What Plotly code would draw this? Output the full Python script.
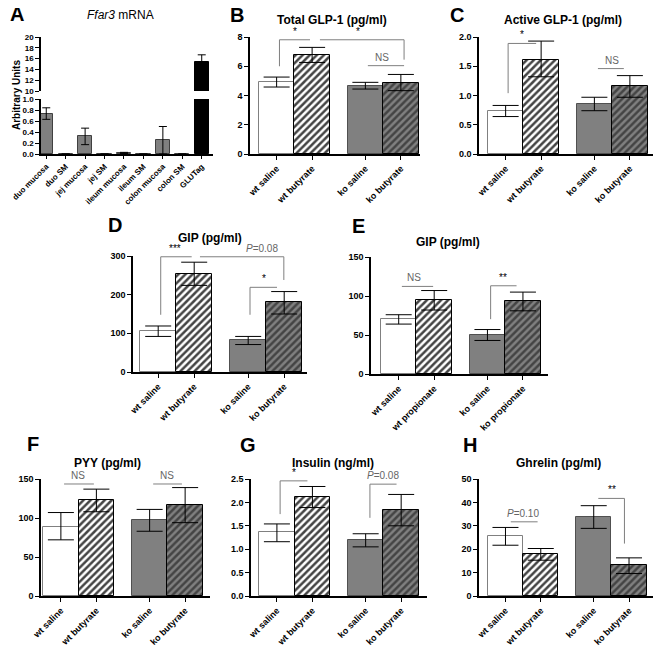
import plotly.graph_objects as go

# the page body adds an 8px margin, so the figure is 8px smaller and every
# reference pixel position is shifted by that margin
OFF = 8
W, H = 662 - OFF, 645 - OFF
FONT = "Liberation Sans, Arial, sans-serif"

# ---------------- data ----------------
a_cats = ["duo mucosa", "duo SM", "jej mucosa", "jej SM", "ileum mucosa",
          "ileum SM", "colon mucosa", "colon SM", "GLUTag"]
a_vals = [0.73, 0, 0.32, 0, 0.02, 0, 0.25, 0, 15.3]
a_hi = [0.84, 0, 0.47, 0, 0.03, 0, 0.50, 0, 16.7]
a_lo = [0.63, 0, 0.17, 0, 0.01, 0, 0.0, 0, 13.9]

but_cats = ["wt saline", "wt butyrate", "ko saline", "ko butyrate"]
pro_cats = ["wt saline", "wt propionate", "ko saline", "ko propionate"]

b_vals = [4.92, 6.79, 4.62, 4.85]
b_hi = [5.26, 7.29, 4.90, 5.44]
b_lo = [4.58, 6.26, 4.44, 4.33]

c_vals = [0.74, 1.61, 0.86, 1.17]
c_hi = [0.83, 1.93, 0.97, 1.34]
c_lo = [0.64, 1.32, 0.74, 0.97]

d_vals = [105, 254, 82, 180]
d_hi = [119, 284, 92, 208]
d_lo = [92, 224, 71, 150]

e_vals = [71, 95, 50, 93]
e_hi = [76, 107, 57, 105]
e_lo = [64, 82, 43, 81]

f_vals = [89, 123, 97, 117]
f_hi = [107, 137, 111, 139]
f_lo = [72, 108, 83, 94]

g_vals = [1.36, 2.12, 1.20, 1.84]
g_hi = [1.54, 2.34, 1.33, 2.17]
g_lo = [1.16, 1.89, 1.05, 1.50]

h_vals = [25.6, 17.9, 33.7, 13.1]
h_hi = [29.3, 20.3, 38.6, 16.3]
h_lo = [21.7, 15.3, 28.9, 9.6]

# ---------------- helpers (page pixel -> paper fraction) ----------------
def fx(x):
    return (x - OFF) / W

def fy(y):
    return 1 - (y - OFF) / H

def dx(x0, x1):
    return [fx(x0), fx(x1)]

def dy(y0, y1):
    return [fy(y1), fy(y0)]

ax_base = dict(showline=True, linecolor="black", linewidth=1.5, ticks="outside",
               tickcolor="black", ticklen=4, tickwidth=1.2, showgrid=False,
               zeroline=False, automargin=False,
               tickfont=dict(family=FONT, size=9, color="black", weight="bold"))

GRAY = "#808080"
fig = go.Figure()
annots = []
shapes = []

# ---------------- panel A (broken axis) ----------------
a_pos = list(range(len(a_cats)))
a_colors = [GRAY] * 8 + ["black"]
a_lines = ["#404040"] * 8 + ["black"]
for ya in ["y", "y2"]:
    fig.add_trace(go.Bar(
        x=a_pos, y=a_vals, xaxis="x", yaxis=ya, width=0.73,
        marker=dict(color=a_colors, line=dict(color=a_lines, width=1)),
        error_y=dict(type="data", array=[h - v for h, v in zip(a_hi, a_vals)],
                     arrayminus=[v - l for v, l in zip(a_vals, a_lo)],
                     color="black", thickness=1, width=4),
        showlegend=False, hoverinfo="skip"))

a_tick = dict(family=FONT, size=8, color="black", weight="bold")
fig.update_layout(
    xaxis=dict(ax_base, domain=dx(41, 213), range=[-0.27, 8.58], anchor="y",
               tickvals=a_pos, ticktext=a_cats, tickangle=-45, ticklen=3,
               tickfont=a_tick),
    yaxis=dict(ax_base, domain=dy(99, 154), range=[0, 1], dtick=0.2,
               tickformat=".1f", anchor="x", tickfont=a_tick),
    yaxis2=dict(ax_base, domain=dy(37, 91), range=[10, 20], dtick=2,
                anchor="x", tickfont=a_tick),
)
annots.append(dict(text="A", x=fx(17), y=fy(14), font=dict(size=20, weight="bold")))
annots.append(dict(text="Arbitrary Units", textangle=-90, x=fx(16), y=fy(95),
                   font=dict(size=10, weight="bold")))
annots.append(dict(text="<i>Ffar3</i> mRNA", x=fx(120), y=fy(15),
                   font=dict(size=12)))

# ---------------- panels B-H ----------------
bar_pos = [0.75, 1.75, 3.25, 4.25]
fills = ["white", "white", GRAY, GRAY]
outlines = [GRAY, "black", "#505050", "black"]
hatch = ["", "/", "", "/"]

# each bracket: x0, x1, y, left leg bottom, right leg bottom, label, label x
panels = [
    dict(letter="B", title="Total GLP-1 (pg/ml)", cats=but_cats,
         vals=b_vals, hi=b_hi, lo=b_lo, box=(250, 37, 420, 154), xlo=0.0, bpx=35.5,
         yr=[0, 8], dtick=2, fmt="", letter_xy=(237, 15), title_xy=(332, 20),
         brackets=[(0.83, 1.69, 7.81, 6.0, None, "*", 1.27),
                   (1.97, 4.34, 7.81, None, 6.45, "*", 3.04),
                   (3.32, 4.34, 6.04, None, None, "NS", 3.72)]),
    dict(letter="C", title="Active GLP-1 (pg/ml)", cats=but_cats,
         vals=c_vals, hi=c_hi, lo=c_lo, box=(479, 37, 653, 154), xlo=0.0, bpx=35.5,
         yr=[0, 2], dtick=0.5, fmt=".1f", letter_xy=(457, 15), title_xy=(563, 20),
         brackets=[(0.82, 1.61, 1.89, 1.04, None, "*", 1.2),
                   (3.35, 4.08, 1.46, None, None, "NS", 3.74)]),
    dict(letter="D", title="GIP (pg/ml)", cats=but_cats,
         vals=d_vals, hi=d_hi, lo=d_lo, box=(133, 256, 307, 372), xlo=0.05, bpx=36,
         yr=[0, 300], dtick=100, fmt="", letter_xy=(115, 225), title_xy=(210, 238),
         brackets=[(0.82, 1.68, 298, 148, None, "***", 1.22),
                   (1.91, 4.24, 298, None, 238, "<i>P</i>=0.08", 3.62),
                   (3.30, 4.05, 219, 148, None, "*", 3.69)]),
    dict(letter="E", title="GIP (pg/ml)", cats=pro_cats,
         vals=e_vals, hi=e_hi, lo=e_lo, box=(371, 257, 548, 374), xlo=-0.03, bpx=35.5,
         yr=[0, 150], dtick=50, fmt="", letter_xy=(358, 226), title_xy=(448, 242),
         brackets=[(0.84, 1.72, 112.3, None, None, "NS", 1.18),
                   (3.34, 4.07, 113.1, 70.3, None, "**", 3.69)]),
    dict(letter="F", title="PYY (pg/ml)", cats=but_cats,
         vals=f_vals, hi=f_hi, lo=f_lo, box=(41, 479, 210, 596), xlo=0.19, bpx=35.5,
         yr=[0, 150], dtick=50, fmt="", letter_xy=(33, 444), title_xy=(107, 463),
         brackets=[(0.84, 1.68, 143.6, None, None, "NS", 1.24),
                   (3.35, 4.16, 143.6, None, None, "NS", 3.73)]),
    dict(letter="G", title="Insulin (ng/ml)", cats=but_cats,
         vals=g_vals, hi=g_hi, lo=g_lo, box=(251, 479, 427, 596), xlo=0.02, bpx=35.5,
         yr=[0, 2.5], dtick=0.5, fmt=".1f", letter_xy=(248, 445), title_xy=(333, 463),
         brackets=[(0.84, 1.61, 2.46, 1.75, None, "*", 1.23),
                   (3.37, 4.12, 2.39, 1.67, None, "<i>P</i>=0.08", 3.75)]),
    dict(letter="H", title="Ghrelin (pg/ml)", cats=but_cats,
         vals=h_vals, hi=h_hi, lo=h_lo, box=(479, 479, 653, 596), xlo=0.0, bpx=35.3,
         yr=[0, 50], dtick=10, fmt="", letter_xy=(470, 445), title_xy=(558, 463),
         brackets=[(0.90, 1.66, 31.7, None, None, "<i>P</i>=0.10", 1.26),
                   (3.38, 4.12, 41.7, None, 22.4, "**", 3.76)]),
]

lay = {}
for i, p in enumerate(panels):
    n = i + 3
    xa, ya = f"x{n}", f"y{n}"
    x0, y0, x1, y1 = p["box"]
    xhi = p["xlo"] + (x1 - x0) / p["bpx"]
    fig.add_trace(go.Bar(
        x=bar_pos, y=p["vals"], xaxis=xa, yaxis=ya, width=1.0,
        marker=dict(color=fills, line=dict(color=outlines, width=1),
                    pattern=dict(shape=hatch, fgcolor="black", fgopacity=1,
                                 size=5, solidity=0.5)),
        error_y=dict(type="data",
                     array=[h - v for h, v in zip(p["hi"], p["vals"])],
                     arrayminus=[v - l for v, l in zip(p["vals"], p["lo"])],
                     color="black", thickness=1, width=13),
        showlegend=False, hoverinfo="skip"))
    lay[f"xaxis{n}"] = dict(ax_base, domain=dx(x0, x1), range=[p["xlo"], xhi],
                            anchor=ya, tickvals=bar_pos, ticktext=p["cats"],
                            tickangle=-45)
    lay[f"yaxis{n}"] = dict(ax_base, domain=dy(y0, y1), range=p["yr"],
                            dtick=p["dtick"], tickformat=p["fmt"], anchor=xa)
    lx, ly = p["letter_xy"]
    annots.append(dict(text=p["letter"], x=fx(lx), y=fy(ly),
                       font=dict(size=20, weight="bold")))
    tx, ty = p["title_xy"]
    annots.append(dict(text=p["title"], x=fx(tx), y=fy(ty),
                       font=dict(size=12, weight="bold")))
    for bx0, bx1, by, lleg, rleg, lab, labx in p["brackets"]:
        ln = dict(color="#7f7f7f", width=1)
        shapes.append(dict(type="line", xref=xa, yref=ya, x0=bx0, x1=bx1,
                           y0=by, y1=by, line=ln))
        if lleg is not None:
            shapes.append(dict(type="line", xref=xa, yref=ya, x0=bx0, x1=bx0,
                               y0=lleg, y1=by, line=ln))
        if rleg is not None:
            shapes.append(dict(type="line", xref=xa, yref=ya, x0=bx1, x1=bx1,
                               y0=rleg, y1=by, line=ln))
        col = "black" if "*" in lab else "#666666"
        annots.append(dict(text=lab, xref=xa, yref=ya, x=labx, y=by,
                           yanchor="bottom", yshift=1, showarrow=False,
                           font=dict(size=10, color=col)))

fig.update_layout(**lay)

for a in annots:
    a.setdefault("xref", "paper")
    a.setdefault("yref", "paper")
    a.setdefault("showarrow", False)
    a.setdefault("xanchor", "center")
    a.setdefault("yanchor", "middle")
    a["font"] = dict(dict(family=FONT, color="black"), **a["font"])

fig.update_layout(
    width=W, height=H, margin=dict(l=0, r=0, t=0, b=0),
    paper_bgcolor="white", plot_bgcolor="white",
    font=dict(family=FONT, color="black"),
    annotations=annots, shapes=shapes, bargap=0,
)

fig.write_html("out.html")
